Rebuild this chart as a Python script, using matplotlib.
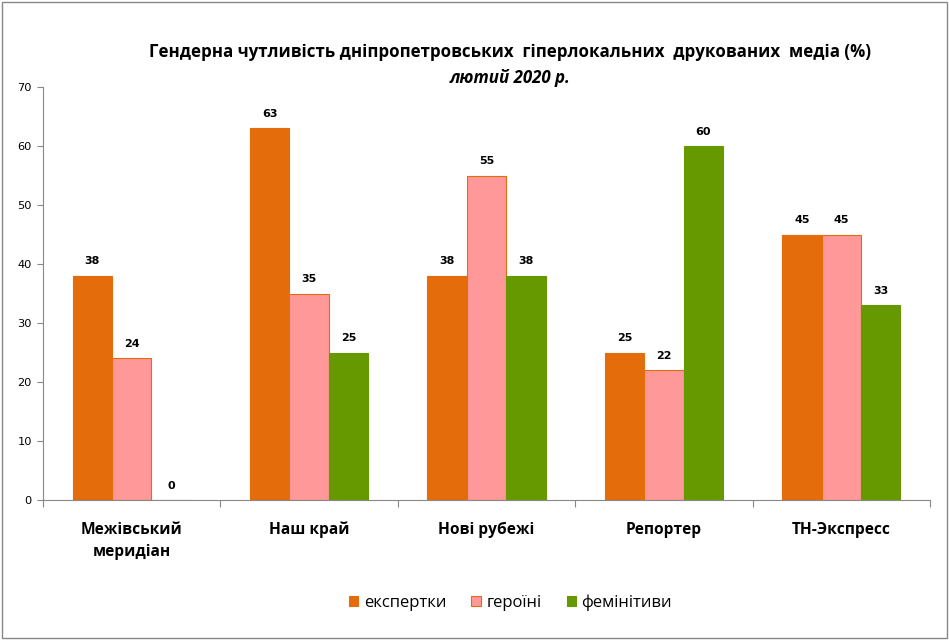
import matplotlib
matplotlib.use("Agg")
import matplotlib.pyplot as plt
import numpy as np
from matplotlib.patches import Rectangle

categories = ["Межівський\nмеридіан", "Наш край", "Нові рубежі", "Репортер", "ТН-Экспресс"]
series_names = ["експертки", "героїні", "фемінітиви"]
expert = [38, 63, 38, 25, 45]
heroines = [24, 35, 55, 22, 45]
feminitives = [0, 25, 38, 60, 33]
yticks = [0, 10, 20, 30, 40, 50, 60, 70]

colors = ["#E46C0A", "#FF9999", "#669900"]
edges = ["#E46C0A", "#E46C0A", "#669900"]

fig = plt.figure(figsize=(9.49, 6.40), dpi=100)
ax = fig.add_axes([43/949, 140/640, (930-43)/949, (500-87)/640])

x = np.arange(len(categories))
w = 1/4.5
data = [expert, heroines, feminitives]
for i, (vals, c, e, name) in enumerate(zip(data, colors, edges, series_names)):
    pos = x + (i-1)*w
    ax.bar(pos, vals, width=w, color=c, edgecolor=e, linewidth=0.8, label=name)
    for p, v in zip(pos, vals):
        ax.text(p, v + 1.6, str(v), ha="center", va="bottom", fontsize=8,
                fontweight="bold", family="DejaVu Sans")

ax.set_xlim(-0.5, len(categories)-0.5)
ax.set_ylim(0, 70)
ax.set_yticks(yticks)
ax.tick_params(axis="y", labelsize=8.2, length=4, color="#888888", pad=4)
ax.set_xticks(np.arange(len(categories)+1) - 0.5, minor=False)
ax.set_xticklabels([])
ax.tick_params(axis="x", length=5, color="#888888", direction="out")
for xi, cat in zip(x, categories):
    ax.text(xi, -3.7, cat, ha="center", va="top", fontsize=11.2, fontweight="bold",
            family="Open Sans", linespacing=1.5, transform=ax.transData)
for s in ["top", "right"]:
    ax.spines[s].set_visible(False)
for s in ["left", "bottom"]:
    ax.spines[s].set_color("#888888")

fig.text(0.537, 1-52/640, "Гендерна чутливість дніпропетровських  гіперлокальних  друкованих  медіа (%)",
         ha="center", va="center", fontsize=12.2, fontweight="bold", family="Open Sans")
fig.text(0.537, 1-78/640, "лютий 2020 р.", ha="center", va="center", fontsize=12.2,
         fontweight="bold", style="italic", family="Open Sans")

leg = fig.legend(loc="center", bbox_to_anchor=(0.538, 1-603/640), ncol=3, frameon=False,
                 handlelength=0.55, handleheight=0.55, columnspacing=1.5,
                 handletextpad=0.35, prop={"family": "Open Sans", "size": 12})

fig.patches.append(Rectangle((0.002, 0.003), 0.996, 0.994, transform=fig.transFigure,
                             fill=False, edgecolor="#888888", linewidth=1))

fig.savefig("out.png", dpi=100)
